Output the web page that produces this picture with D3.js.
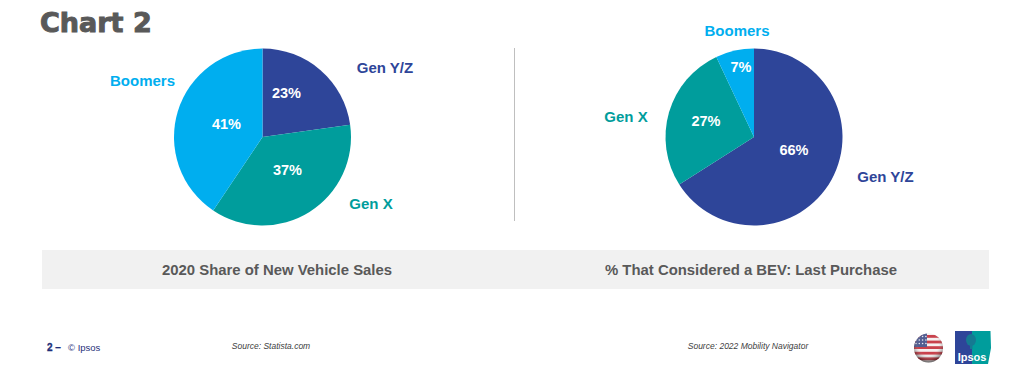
<!DOCTYPE html>
<html>
<head>
<meta charset="utf-8">
<script src="https://cdn.jsdelivr.net/npm/d3@7"></script>
<style>
  html, body { margin: 0; background: #fff; }
  text { font-family: "Liberation Sans", Arial, sans-serif; }
</style>
</head>
<body>
<svg id="chart" width="1024" height="386"></svg>
<script>
// chart data
var categories = ["Gen Y/Z", "Gen X", "Boomers"];
var salesShare = [23, 37, 41];
var bevShare = [66, 27, 7];
var captions = ["2020 Share of New Vehicle Sales", "% That Considered a BEV: Last Purchase"];
var sources = ["Source: Statista.com", "Source: 2022 Mobility Navigator"];

var color = d3.scaleOrdinal().domain(categories).range(["#2e4599", "#009d9c", "#00aeef"]);

var svg = d3.select("#chart");
var radius = 88.5;

// title
svg.append("text")
  .attr("x", 40)
  .attr("y", 32)
  .attr("fill", "#595959")
  .attr("stroke", "#595959")
  .attr("stroke-width", 1)
  .style("font-family", "'DejaVu Sans'")
  .style("font-weight", "bold")
  .style("font-size", "27px")
  .text("Chart 2");

// divider
svg.append("line")
  .attr("x1", 514.5).attr("x2", 514.5)
  .attr("y1", 48).attr("y2", 221)
  .attr("stroke", "#bfbfbf");

function drawPie(values, cx, cy, pctPos, namePos) {
  var rows = categories.map(function (c, i) {
    return { name: c, value: values[i] };
  });
  var pie = d3.pie().sort(null).value(function (d) { return d.value; });
  var arc = d3.arc().innerRadius(0).outerRadius(radius);
  var g = svg.append("g").attr("transform", "translate(" + cx + "," + cy + ")");

  g.selectAll("path")
    .data(pie(rows))
    .enter()
    .append("path")
    .attr("d", arc)
    .attr("fill", function (d) { return color(d.data.name); });

  g.selectAll(".pct")
    .data(rows)
    .enter()
    .append("text")
    .attr("class", "pct")
    .attr("x", function (d, i) { return pctPos[i][0]; })
    .attr("y", function (d, i) { return pctPos[i][1]; })
    .attr("text-anchor", "middle")
    .attr("fill", "#fff")
    .style("font-weight", "bold")
    .style("font-size", "14.5px")
    .text(function (d) { return d.value + "%"; });

  g.selectAll(".name")
    .data(rows)
    .enter()
    .append("text")
    .attr("class", "name")
    .attr("x", function (d, i) { return namePos[i][0]; })
    .attr("y", function (d, i) { return namePos[i][1]; })
    .attr("text-anchor", "middle")
    .attr("fill", function (d) { return color(d.name); })
    .style("font-weight", "bold")
    .style("font-size", "15px")
    .text(function (d) { return d.name; });
}

drawPie(salesShare, 262.5, 137,
  [[24, -39], [25, 38], [-36, -8]],
  [[122.5, -64], [108.5, 72], [-120, -51]]);
drawPie(bevShare, 754, 137,
  [[40, 18], [-48, -11], [-13, -65]],
  [[131.5, 45], [-128, -15], [-17, -101]]);

// caption band
svg.append("rect")
  .attr("x", 42).attr("y", 250)
  .attr("width", 947).attr("height", 39)
  .attr("fill", "#f1f1f1");

svg.selectAll(".caption")
  .data(captions)
  .enter()
  .append("text")
  .attr("class", "caption")
  .attr("x", function (d, i) { return i === 0 ? 277 : 751; })
  .attr("y", 275)
  .attr("text-anchor", "middle")
  .attr("fill", "#595959")
  .style("font-weight", "bold")
  .style("font-size", "14.9px")
  .text(function (d) { return d; });

// footer
svg.append("text")
  .attr("x", 47).attr("y", 351)
  .attr("fill", "#1f2f7a")
  .attr("stroke", "#1f2f7a")
  .attr("stroke-width", 0.3)
  .style("font-weight", "bold")
  .style("font-size", "10px")
  .text("2 \u2013");
svg.append("text")
  .attr("x", 68).attr("y", 351)
  .attr("fill", "#1f2f7a")
  .style("font-size", "9.5px")
  .text("\u00a9 Ipsos");

svg.selectAll(".source")
  .data(sources)
  .enter()
  .append("text")
  .attr("class", "source")
  .attr("x", function (d, i) { return i === 0 ? 271 : 748; })
  .attr("y", 349)
  .attr("text-anchor", "middle")
  .attr("fill", "#404040")
  .style("font-style", "italic")
  .style("font-size", "8.5px")
  .text(function (d) { return d; });

// flag globe
var defs = svg.append("defs");
defs.append("clipPath").attr("id", "globe")
  .append("circle").attr("cx", 928.5).attr("cy", 348).attr("r", 14.5);
var shade = defs.append("radialGradient").attr("id", "shade")
  .attr("cx", "50%").attr("cy", "38%").attr("r", "62%");
shade.append("stop").attr("offset", "55%").attr("stop-color", "#fff").attr("stop-opacity", 0.15);
shade.append("stop").attr("offset", "100%").attr("stop-color", "#000").attr("stop-opacity", 0.6);

var flag = svg.append("g").attr("clip-path", "url(#globe)");
flag.append("rect").attr("x", 913).attr("y", 333).attr("width", 31).attr("height", 30).attr("fill", "#f4eeee");
flag.selectAll(".stripe")
  .data(d3.range(5))
  .enter()
  .append("rect")
  .attr("class", "stripe")
  .attr("x", 913)
  .attr("y", function (d) { return 335 + d * 5.6; })
  .attr("width", 31)
  .attr("height", 2.8)
  .attr("fill", "#c0202c");
flag.append("rect").attr("x", 913).attr("y", 333).attr("width", 14).attr("height", 14).attr("fill", "#33417f");
flag.selectAll(".star")
  .data(d3.range(12))
  .enter()
  .append("circle")
  .attr("class", "star")
  .attr("cx", function (d) { return 916 + (d % 4) * 3.3; })
  .attr("cy", function (d) { return 336.5 + Math.floor(d / 4) * 3.5; })
  .attr("r", 0.8)
  .attr("fill", "#e6e6f0");
svg.append("circle").attr("cx", 928.5).attr("cy", 348).attr("r", 14.5).attr("fill", "url(#shade)");

// logo
svg.append("path").attr("d", "M955 331H972V364H955Z").attr("fill", "#2e4599");
svg.append("path").attr("d", "M972 331H990.5L991 348L988 364H972Z").attr("fill", "#009d9c");
svg.append("ellipse").attr("cx", 971).attr("cy", 340).attr("rx", 5).attr("ry", 6).attr("fill", "#157a92");
svg.append("rect").attr("x", 970).attr("y", 344).attr("width", 2.5).attr("height", 5).attr("fill", "#157a92");
svg.append("text")
  .attr("x", 972).attr("y", 361)
  .attr("text-anchor", "middle")
  .attr("fill", "#fff")
  .style("font-weight", "bold")
  .style("font-size", "11px")
  .text("Ipsos");
</script>
</body>
</html>
